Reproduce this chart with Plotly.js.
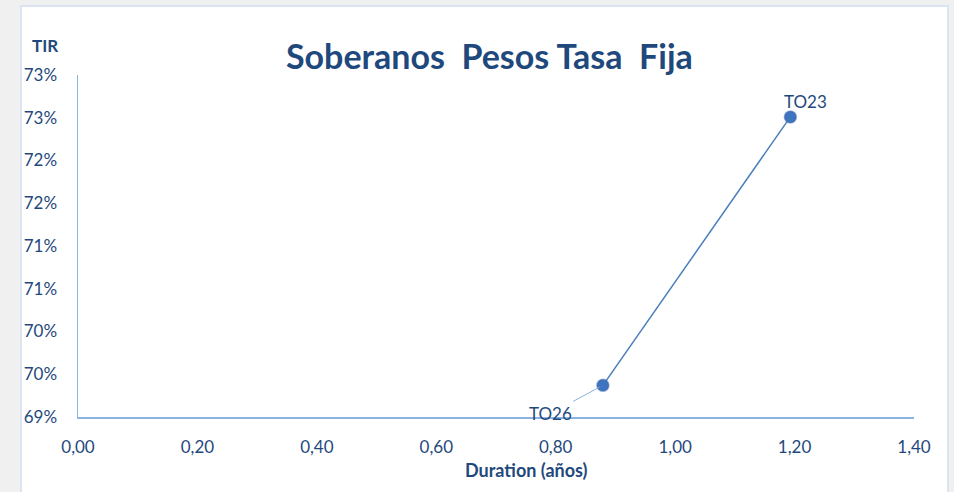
<!DOCTYPE html>
<html>
<head>
<meta charset="utf-8">
<script src="https://cdn.plot.ly/plotly-3.0.1.min.js"></script>
<style>
html,body{margin:0;padding:0;width:954px;height:492px;background:#f0f0f0;overflow:hidden;}
#frame{position:absolute;left:20px;top:5px;width:929px;height:500px;background:#fff;border:2px solid #dbe5f1;box-sizing:border-box;}
#chart{position:absolute;left:0;top:0;width:954px;height:492px;}
</style>
</head>
<body>
<div id="frame"></div>
<div id="chart"></div>
<script>
const bonds = ["TO26", "TO23"];
const duration = [0.879, 1.193];
const tir = [69.37, 72.51];
const yTickVals = [69, 69.5, 70, 70.5, 71, 71.5, 72, 72.5, 73];
const yTickText = ["69%", "70%", "70%", "71%", "71%", "72%", "72%", "73%", "73%"];
const xTickVals = [0, 0.2, 0.4, 0.6, 0.8, 1.0, 1.2, 1.4];
const xTickText = ["0,00", "0,20", "0,40", "0,60", "0,80", "1,00", "1,20", "1,40"];

const txt = '#1f497d';
const axisCol = '#8db3e2';
const font = 'Lato, "Open Sans", sans-serif';

const trace = {
  x: duration, y: tir, mode: 'lines+markers', type: 'scatter',
  line: {color: '#4a7ebb', width: 1.5, shape: 'spline'},
  marker: {color: '#3f74c0', size: 12, line: {color: 'rgba(60,100,170,0.45)', width: 1.5}},
  hoverinfo: 'skip'
};

const layout = {
  width: 954, height: 492,
  paper_bgcolor: 'rgba(0,0,0,0)', plot_bgcolor: 'rgba(0,0,0,0)',
  margin: {l: 78, r: 40, t: 75, b: 75},
  showlegend: false,
  font: {family: font, color: txt, size: 17},
  title: {text: 'Soberanos  Pesos Tasa  Fija', font: {family: font, size: 34, color: txt, weight: 'bold'},
          x: 0.513, xanchor: 'center', y: 0.884, yanchor: 'middle'},
  xaxis: {range: [0, 1.4], tickvals: xTickVals, ticktext: xTickText, showgrid: false, zeroline: false,
          showline: true, linecolor: axisCol, linewidth: 1.5, ticks: '', ticklabelstandoff: 14,
          tickfont: {family: font, size: 17, color: txt}},
  yaxis: {range: [69, 73], tickvals: yTickVals, ticktext: yTickText, showgrid: false, zeroline: false,
          showline: true, linecolor: axisCol, linewidth: 1.5, ticks: '', ticklabelstandoff: 16,
          tickfont: {family: font, size: 17, color: txt}},
  annotations: [
    {xref: 'paper', yref: 'paper', x: -0.04, y: 1.087, text: '<b>TIR</b>', showarrow: false,
     font: {family: font, size: 17, color: txt}, xanchor: 'center', yanchor: 'middle'},
    {xref: 'paper', yref: 'paper', x: 0.537, y: -0.155, text: '<b>Duration (años)</b>', showarrow: false,
     font: {family: font, size: 18, color: txt}, xanchor: 'center', yanchor: 'middle'},
    {x: duration[1], y: tir[1], text: bonds[1], showarrow: false, xshift: 15, yshift: 15,
     font: {family: font, size: 17, color: txt}, xanchor: 'center', yanchor: 'middle'},
    {x: duration[0], y: tir[0], text: bonds[0], showarrow: true, arrowhead: 0, arrowwidth: 1,
     arrowcolor: axisCol, ax: -52, ay: 28, standoff: 4,
     font: {family: font, size: 17, color: txt}}
  ]
};

Plotly.newPlot('chart', [trace], layout, {displayModeBar: false, staticPlot: true});
</script>
</body>
</html>
